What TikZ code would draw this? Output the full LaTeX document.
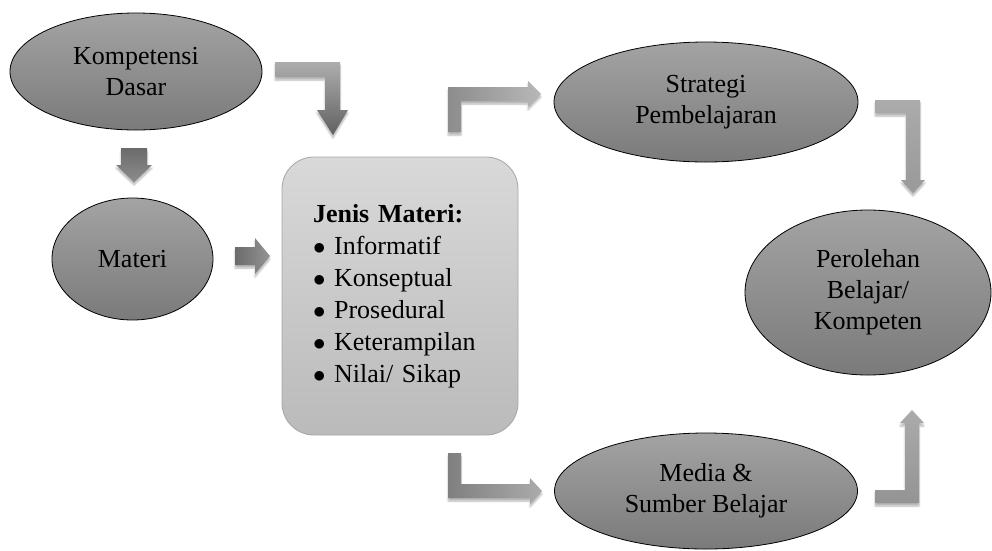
\documentclass[tikz,border=0pt]{standalone}
\usepackage{fontspec}
\setmainfont{Liberation Serif}
\usetikzlibrary{shapes.geometric,shadows.blur}

\begin{document}
\begin{tikzpicture}[x=1pt,y=-1pt,
  oval/.style={ellipse,draw=black,line width=0.8pt,inner sep=0pt,top color=black!36,bottom color=black!52,align=center,font=\fontsize{26}{31}\selectfont},
  kotak/.style={rectangle,rounded corners=32pt,draw=black!35,line width=0.8pt,top color=black!15,bottom color=black!27,minimum width=236pt,minimum height=278pt,inner sep=0pt,text width=174pt,align=left,font=\fontsize{26}{32}\selectfont},
  panah/.style={blur shadow={shadow xshift=0pt,shadow yshift=-3pt,shadow blur steps=6,shadow opacity=30}}]
\useasboundingbox (0,0) rectangle (992,550);
% \draw[help lines,step=50] (0,0) grid (992,550);
\node (kd) [oval,minimum width=252pt,minimum height=117pt] at (136,71.5) {Kompetensi\\Dasar};
\node (materi) [oval,minimum width=161pt,minimum height=122pt] at (132.5,259) {Materi};
\node (jenis) [kotak] at (400,296) {\textbf{Jenis Materi:}\\
  $\bullet$ Informatif\\ $\bullet$ Konseptual\\ $\bullet$ Prosedural\\
  $\bullet$ Keterampilan\\ $\bullet$ Nilai/ Sikap};
\node (strategi) [oval,minimum width=304pt,minimum height=120pt] at (706,102) {Strategi\\Pembelajaran};
\node (hasil) [oval,minimum width=246pt,minimum height=165pt] at (868,292.5) {Perolehan\\Belajar/\\Kompeten};
\node (media) [oval,minimum width=303pt,minimum height=116pt] at (706,491) {Media \&\\Sumber Belajar};
%
% block arrows between the nodes
\path[panah,top color=black!58,bottom color=black!45] (121,148) -- (147,148) -- (147,165) -- (152,165) -- (134,182) -- (116,165) -- (121,165) -- cycle;
\path[panah,top color=black!32,bottom color=black!62] (275,62) -- (340,62) -- (340,110) -- (348,110) -- (333,135) -- (317,110) -- (325,110) -- (325,77) -- (275,77) -- cycle;
\path[panah,left color=black!58,right color=black!42] (235,247) -- (255,247) -- (255,238) -- (270,256) -- (255,274) -- (255,265) -- (235,265) -- cycle;
\path[panah,left color=black!45,right color=black!28] (448,132) -- (448,87) -- (528,87) -- (528,81) -- (541,94) -- (528,107) -- (528,101) -- (461,101) -- (461,132) -- cycle;
\path[panah,top color=black!33,bottom color=black!40] (875,100) -- (920,100) -- (920,180) -- (925,180) -- (913,193) -- (901,180) -- (906,180) -- (906,113) -- (875,113) -- cycle;
\path[panah,left color=black!50,right color=black!33] (448,453) -- (461,453) -- (461,484) -- (530,484) -- (530,478) -- (542,491) -- (530,504) -- (530,498) -- (448,498) -- cycle;
\path[panah,top color=black!33,bottom color=black!42] (875,490) -- (905,490) -- (905,423) -- (900,423) -- (912,410) -- (924,423) -- (919,423) -- (919,503) -- (875,503) -- cycle;
\end{tikzpicture}
\end{document}
